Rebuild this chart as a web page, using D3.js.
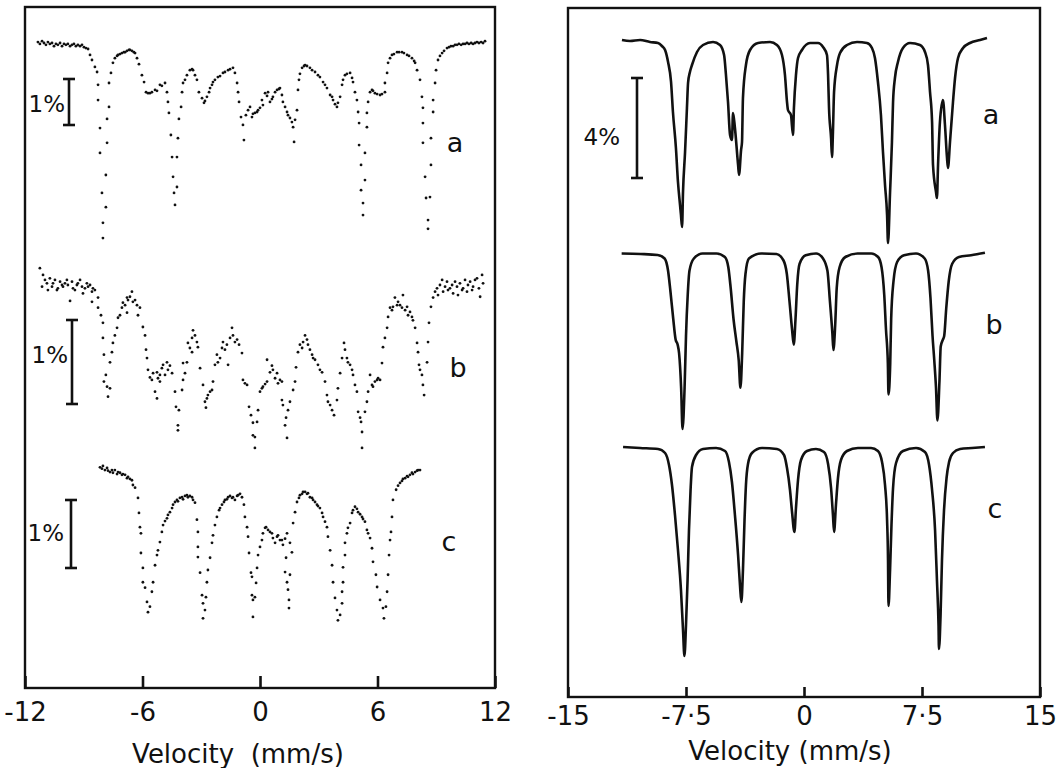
<!DOCTYPE html>
<html>
<head>
<meta charset="utf-8">
<script src="https://cdn.jsdelivr.net/npm/d3@7"></script>
<style>
  body { margin: 0; background: #fff; }
  text { font-family: "DejaVu Sans", sans-serif; fill: #111; }
</style>
</head>
<body>
<svg id="chart" width="1060" height="768"></svg>
<script>
// velocity axes (mm/s)
const leftTicks = [-12, -6, 0, 6, 12]
const leftTickLabels = ["-12", "-6", "0", "6", "12"]
const rightTicks = [-15, -7.5, 0, 7.5, 15]
const rightTickLabels = ["-15", "-7·5", "0", "7·5", "15"]
const spectrumNames = ["a", "b", "c"]
const leftBarPercent = 1
const rightBarPercent = 4

// left figure, measured points: [velocity mm/s, absorption % below baseline]
const leftA = [[-11.34,-0.02],[-11.24,0.02],[-11.13,-0.04],[-11.03,0],[-10.93,0.04],[-10.83,-0.02],[-10.73,0.02],[-10.62,0],[-10.52,0.07],[-10.42,0.02],[-10.32,0.04],[-10.21,0],[-10.11,0.07],[-10.01,0.02],[-9.91,0.04],[-9.81,0.02],[-9.70,0.07],[-9.60,0.04],[-9.50,0.02],[-9.40,0.07],[-9.30,0.04],[-9.19,0.07],[-9.09,0.04],[-8.99,0.09],[-8.89,0.11],[-8.78,0.13],
  [-8.68,0.26],[-8.58,0.37],[-8.43,0.52],[-8.32,0.63],[-8.27,0.91],[-8.27,1.24],[-8.17,1.85],[-8.17,2.39],[-8.07,3.26],[-8.02,3.91],[-8.02,4.24],[-7.87,3.57],[-7.87,2.87],[-7.81,2.17],[-7.81,1.65],[-7.71,1.39],[-7.71,0.87],[-7.61,0.65],[-7.51,0.43],[-7.41,0.33],[-7.30,0.28],[-7.25,0.26],[-7.15,0.24],[-7.05,0.22],[-6.95,0.20],[-6.89,0.20],[-6.79,0.17],[-6.69,0.15],[-6.64,0.15],[-6.54,0.17],[-6.44,0.20],[-6.38,0.22],[-6.28,0.33],[-6.18,0.46],[-6.03,0.70],[-5.92,0.85],[-5.82,1.07],[-5.72,1.09],[-5.62,1.09],[-5.52,1.07],[-5.36,1.02],[-5.26,1.04],[-5.11,0.91],[-5.01,0.93],[-4.85,0.87],[-4.75,1.07],[-4.70,1.28],[-4.65,1.52],[-4.55,2.00],[-4.49,2.48],[-4.44,2.91],[-4.39,3.26],[-4.34,3.52],
  [-4.24,3.13],[-4.24,2.48],[-4.19,2.07],[-4.14,1.65],[-4.03,1.39],[-3.98,1.07],[-3.93,0.87],[-3.83,0.80],[-3.73,0.70],[-3.58,0.59],[-3.47,0.57],[-3.42,0.59],[-3.32,0.70],[-3.22,0.80],[-3.12,1.07],[-2.96,1.20],[-2.86,1.30],[-2.81,1.26],[-2.71,1.17],[-2.60,1.07],[-2.55,0.98],[-2.45,0.91],[-2.40,0.85],[-2.30,0.80],[-2.15,0.74],[-2.04,0.72],[-1.89,0.65],[-1.79,0.63],[-1.63,0.59],[-1.53,0.57],[-1.38,0.54],[-1.28,0.65],[-1.17,0.87],[-1.12,1.07],[-1.07,1.28],[-0.97,1.61],[-0.87,1.78],[-0.82,2.11],[-0.72,1.57],[-0.61,1.46],[-0.51,1.39],[-0.41,1.61],[-0.36,1.54],[-0.26,1.52],[-0.15,1.50],[-0.10,1.46],[0,1.41],[0.10,1.24],[0.15,1.35],[0.26,1.09],[0.36,1.15],[0.41,1.07],[0.51,1.28],[0.61,1.22],[0.66,1.17],[0.77,1.07],[0.87,1.02],[0.97,1.00],[1.02,0.98],[1.12,1.13],[1.17,1.28],[1.28,1.39],[1.38,1.50],[1.43,1.57],[1.53,1.63],[1.63,1.72],[1.69,1.83],[1.74,2.15],[1.79,1.67],[1.89,1.46],[1.94,1.02],[1.99,0.80],[2.04,0.67],[2.15,0.54],[2.25,0.50],[2.30,0.48],[2.40,0.50],[2.55,0.54],[2.66,0.59],[2.81,0.63],[2.96,0.70],[3.06,0.74],[3.22,0.85],[3.32,0.91],[3.42,0.98],[3.58,1.13],[3.68,1.17],[3.73,1.24],[3.83,1.33],[3.93,1.39],[3.98,1.30],[4.09,1.17],[4.19,0.91],[4.24,0.80],[4.34,0.70],[4.44,0.67],[4.60,0.65],[4.70,0.76],[4.75,0.85],[4.85,1.07],[4.95,1.24],[5.01,1.50],[5.06,1.74],[5.06,2.22],[5.16,2.65],[5.16,3.20],[5.26,3.48],[5.26,3.74],
  [5.36,2.98],[5.36,2.39],[5.46,1.83],[5.46,1.52],[5.52,1.28],[5.62,1.07],[5.72,1.02],[5.77,1.04],[5.87,1.09],[5.98,1.11],[6.13,1.13],[6.23,1.11],[6.38,1.07],[6.38,0.87],[6.49,0.65],[6.54,0.43],[6.64,0.33],[6.74,0.26],[6.84,0.24],[7.00,0.20],[7.10,0.20],[7.25,0.20],[7.35,0.22],[7.51,0.26],[7.61,0.28],[7.76,0.33],[7.87,0.39],[7.92,0.43],[8.02,0.59],[8.17,0.80],[8.27,1.17],[8.32,1.41],[8.32,1.74],[8.32,2.17],[8.43,2.91],[8.48,3.37],[8.58,3.85],[8.58,4.04],
  [8.68,3.35],[8.73,2.65],[8.73,2.07],[8.84,1.50],[8.84,1.24],[8.94,0.87],[8.99,0.59],[9.09,0.37],[9.19,0.28],[9.30,0.22],[9.40,0.17],[9.55,0.11],[9.65,0.09],[9.75,0.07],[9.86,0.07],[9.96,0.04],[10.06,0.04],[10.16,0.02],[10.27,0.04],[10.37,0.02],[10.47,0.02],[10.57,0],[10.67,0.02],[10.78,0],[10.88,0.02],[10.98,0],[11.08,-0.02],[11.18,0],[11.29,-0.02],[11.39,0],[11.49,-0.04]]

const leftB = [[-11.24,-0.20],[-11.13,0.02],[-11.08,-0.12],[-10.98,-0.06],[-10.88,-0.02],[-10.83,0.06],[-10.73,-0.08],[-10.62,0.02],[-10.57,-0.02],[-10.47,-0.06],[-10.37,0.06],[-10.32,0.04],[-10.21,-0.04],[-10.11,0],[-10.06,0.02],[-9.96,-0.02],[-9.86,-0.06],[-9.81,0],[-9.70,0.19],[-9.60,-0.04],[-9.55,0.04],[-9.45,0.06],[-9.35,0],[-9.30,-0.02],[-9.19,-0.06],[-9.09,0.02],[-9.04,0.10],[-8.94,0.04],[-8.84,-0.02],[-8.78,0.02],[-8.68,0],[-8.58,0.08],[-8.58,0.20],[-8.53,0.04],[-8.43,0.06],
  [-8.27,0.15],[-8.27,0.27],[-8.12,0.36],[-8.02,0.45],[-8.02,0.63],[-7.97,0.83],[-7.87,1.07],[-7.97,1.15],[-7.81,1.21],[-7.76,1.33],[-7.66,1.23],[-7.66,0.92],[-7.56,0.80],[-7.51,0.69],[-7.41,0.60],[-7.30,0.51],[-7.25,0.39],[-7.15,0.36],[-7.05,0.27],[-7.00,0.21],[-6.89,0.24],[-6.79,0.15],[-6.79,0.33],[-6.74,0.18],[-6.64,0.14],[-6.54,0.08],[-6.49,0.20],[-6.38,0.18],[-6.28,0.24],[-6.23,0.36],[-6.13,0.27],[-5.98,0.50],[-5.87,0.60],[-5.82,0.77],[-5.77,0.87],[-5.72,1.01],[-5.62,1.10],[-5.52,1.13],[-5.46,1.05],[-5.36,1.27],[-5.26,1.04],[-5.26,1.35],[-5.21,1.11],[-5.11,1.07],[-5.11,1.15],[-5.01,0.99],[-4.95,0.95],[-4.85,1.07],[-4.75,0.92],[-4.70,1.01],[-4.60,0.96],[-4.49,1.05],[-4.34,1.27],[-4.29,1.45],[-4.19,1.67],[-4.19,1.73],[-4.14,1.49],[-3.98,1.25],[-3.93,1.13],[-3.93,0.93],[-3.83,1.05],[-3.73,0.92],[-3.68,0.69],[-3.58,0.75],[-3.47,0.63],[-3.47,0.80],[-3.42,0.54],[-3.32,0.60],[-3.22,0.68],[-3.17,0.74],[-3.06,0.99],[-2.91,1.19],[-2.81,1.39],[-2.76,1.46],[-2.71,1.35],[-2.66,1.31],[-2.55,1.27],[-2.45,1.25],[-2.40,1.15],[-2.30,0.95],[-2.20,0.83],[-2.15,0.92],[-2.04,0.87],[-1.94,0.75],[-1.89,0.68],[-1.79,0.77],[-1.69,0.71],[-1.63,0.95],[-1.53,0.63],[-1.43,0.51],[-1.38,0.60],[-1.28,0.68],[-1.17,0.65],[-1.07,0.71],[-0.92,0.81],[-0.87,1.13],[-0.77,1.17],[-0.66,1.19],[-0.56,1.45],[-0.46,1.55],[-0.36,1.64],[-0.36,1.79],[-0.26,1.94],[-0.26,1.81],[-0.15,1.63],[-0.10,1.49],
  [0,1.27],[0.10,1.23],[0.15,1.21],[0.26,1.18],[0.36,1.15],[0.36,0.89],[0.51,1.04],[0.61,0.96],[0.66,1.01],[0.77,1.11],[0.87,1.05],[0.92,1.17],[1.02,1.13],[1.12,1.15],[1.12,1.37],[1.17,1.43],[1.28,1.67],[1.33,1.58],[1.38,1.82],[1.43,1.49],[1.53,1.39],[1.69,1.25],[1.79,1.15],[1.84,0.98],[1.94,0.80],[2.04,0.71],[2.15,0.75],[2.20,0.68],[2.30,0.60],[2.40,0.65],[2.45,0.71],[2.55,0.77],[2.66,0.83],[2.71,0.87],[2.81,0.89],[2.96,0.95],[3.06,1.01],[3.17,1.04],[3.32,1.15],[3.42,1.31],[3.47,1.39],[3.58,1.43],[3.68,1.49],[3.78,1.55],[3.93,1.37],[3.98,1.23],[4.09,1.05],[4.19,0.87],[4.29,0.69],[4.34,0.77],[4.44,0.87],[4.49,0.92],[4.60,0.95],[4.70,1.01],[4.75,1.07],[4.85,1.19],[4.95,1.27],[5.01,1.51],[5.11,1.58],[5.16,1.63],[5.21,1.75],[5.21,1.94],[5.36,1.51],[5.46,1.39],[5.52,1.27],[5.62,1.07],[5.72,1.19],[5.77,1.21],[5.87,1.15],[5.98,1.13],[6.03,1.11],[6.13,1.13],[6.23,0.93],[6.28,0.74],[6.38,0.63],[6.49,0.51],[6.54,0.38],[6.64,0.27],[6.74,0.30],[6.79,0.26],[6.89,0.15],[7.00,0.24],[7.05,0.20],[7.15,0.24],[7.25,0.27],[7.30,0.12],[7.41,0.30],[7.51,0.26],[7.56,0.36],[7.66,0.32],[7.76,0.38],[7.81,0.42],[7.92,0.51],[8.02,0.69],[8.07,0.80],[8.12,0.95],[8.17,1.01],[8.27,1.07],[8.32,1.19],[8.38,1.31],
  [8.53,0.92],[8.58,0.68],[8.63,0.45],[8.73,0.26],[8.84,0.15],[8.94,0.08],[9.04,0.04],[9.09,0.12],[9.19,0],[9.30,-0.06],[9.35,0.08],[9.45,0.02],[9.55,-0.04],[9.60,0.06],[9.70,0.04],[9.81,0],[9.86,0.10],[9.96,-0.04],[10.06,0.02],[10.11,0.12],[10.21,-0.02],[10.32,0.06],[10.37,0.04],[10.47,-0.06],[10.57,0.08],[10.62,0],[10.73,-0.04],[10.83,0.06],[10.88,0.02],[10.98,-0.06],[11.08,-0.08],[11.18,0.04],[11.24,0.14],[11.34,-0.12],[11.39,-0.02]]

const leftC = [[-8.17,-0.01],[-8.07,0.01],[-8.02,-0.03],[-7.92,0.03],[-7.81,0],[-7.76,0.04],[-7.66,0.06],[-7.56,0.03],[-7.51,0.07],[-7.41,0.03],[-7.30,0.09],[-7.25,0.06],[-7.15,0.07],[-7.05,0.10],[-7.00,0.09],[-6.89,0.10],[-6.79,0.15],[-6.74,0.13],[-6.64,0.16],[-6.54,0.18],[-6.49,0.25],[-6.38,0.29],[-6.23,0.44],[-6.18,0.66],[-6.13,0.87],[-6.08,0.96],[-6.08,1.25],[-5.98,1.47],[-5.98,1.68],[-5.87,1.76],[-5.77,1.97],[-5.72,2.12],[-5.62,2.04],[-5.52,1.82],[-5.46,1.68],[-5.36,1.43],[-5.26,1.28],[-5.21,1.21],[-5.11,1.09],[-5.01,0.94],[-4.95,0.84],[-4.85,0.78],[-4.75,0.74],[-4.70,0.69],[-4.60,0.65],[-4.49,0.59],[-4.44,0.54],[-4.34,0.50],[-4.24,0.47],[-4.19,0.49],[-4.09,0.44],[-3.98,0.43],[-3.93,0.46],[-3.83,0.41],[-3.73,0.40],[-3.68,0.43],[-3.58,0.41],[-3.47,0.43],[-3.42,0.47],[-3.32,0.51],[-3.22,0.76],[-3.17,0.94],[-3.17,1.16],[-3.17,1.31],[-3.06,1.54],[-2.96,1.87],[-2.91,1.99],[-2.91,2.21],[-2.81,2.09],[-2.76,1.90],[-2.71,1.68],[-2.66,1.50],[-2.55,1.32],[-2.45,1.10],[-2.40,0.99],[-2.30,0.84],[-2.20,0.72],[-2.09,0.62],[-2.04,0.59],[-1.94,0.54],[-1.84,0.50],[-1.79,0.47],[-1.69,0.46],[-1.63,0.43],[-1.53,0.41],[-1.43,0.44],[-1.38,0.43],[-1.28,0.47],[-1.17,0.41],[-1.12,0.40],[-1.02,0.38],[-0.92,0.43],[-0.82,0.54],[-0.77,0.72],[-0.66,0.87],[-0.61,1.01],[-0.56,1.25],[-0.46,1.54],[-0.41,1.60],[-0.41,1.87],[-0.36,1.94],[-0.36,2.19],[-0.26,1.90],[-0.20,1.69],[-0.15,1.47],[-0.10,1.28],
  [0,1.16],[0.10,1.06],[0.15,0.96],[0.26,0.88],[0.31,0.87],[0.41,0.91],[0.51,0.94],[0.61,0.96],[0.66,1.03],[0.77,1.10],[0.87,1.01],[0.92,0.99],[1.02,1.06],[1.12,1.06],[1.17,1.13],[1.28,1.04],[1.38,0.96],[1.53,1.10],[1.33,1.32],[1.28,1.53],[1.38,1.68],[1.43,1.79],[1.48,1.94],[1.48,2.06],[1.53,1.57],[1.63,1.24],[1.69,0.81],[1.79,0.65],[1.89,0.50],[1.99,0.44],[2.04,0.40],[2.15,0.38],[2.20,0.35],[2.30,0.35],[2.40,0.38],[2.45,0.37],[2.55,0.43],[2.66,0.44],[2.71,0.47],[2.81,0.50],[2.91,0.54],[2.96,0.56],[3.06,0.59],[3.17,0.66],[3.22,0.72],[3.32,0.79],[3.42,0.87],[3.47,1.01],[3.58,1.21],[3.68,1.43],[3.73,1.68],[3.83,1.91],[3.93,2.09],[3.98,2.24],[4.09,2.16],[4.19,1.99],[4.19,1.82],[4.24,1.68],[4.24,1.46],[4.34,1.28],[4.34,1.10],[4.44,0.96],[4.49,0.88],[4.60,0.81],[4.70,0.66],[4.75,0.62],[4.85,0.57],[4.95,0.60],[5.01,0.65],[5.11,0.68],[5.21,0.72],[5.26,0.75],[5.36,0.79],[5.46,0.91],[5.52,0.96],[5.62,1.03],[5.72,1.18],[5.77,1.38],[5.92,1.57],[5.98,1.75],[6.13,1.94],[6.28,2.06],[6.33,2.21],[6.43,2.04],[6.49,1.82],[6.54,1.57],[6.59,1.28],[6.64,1.06],[6.69,0.94],[6.74,0.72],[6.79,0.47],[6.95,0.32],[7.05,0.26],[7.15,0.22],[7.25,0.19],[7.30,0.16],[7.41,0.15],[7.51,0.12],[7.56,0.13],[7.66,0.10],[7.76,0.07],[7.81,0.09],[7.92,0.06],[8.02,0.04],[8.07,0.03],[8.17,0.03]]

// right figure, traced curves: [velocity mm/s, absorption %]
const rightA = [[-11.57,0],[-11.06,0.04],[-10.42,0],[-9.79,0.08],[-9.28,0.12],[-9.03,0.24],[-8.83,0.40],[-8.64,0.88],[-8.45,1.68],[-8.33,2.88],[-8.14,4.32],[-8.01,5.68],[-7.88,6.60],[-7.82,7.00],[-7.75,7.48],[-7.69,6.08],[-7.56,4.48],[-7.44,2.72],[-7.37,1.72],[-7.25,1.28],[-7.12,1.00],[-6.80,0.48],[-6.42,0.20],[-5.78,0.08],[-5.34,0.20],[-5.08,0.60],[-4.96,1.40],[-4.83,2.48],[-4.70,3.80],[-4.58,4.00],[-4.51,2.92],[-4.39,3.52],[-4.19,5.00],[-4.13,5.40],[-4.00,4.40],[-3.94,4.08],[-3.88,2.32],[-3.69,1.00],[-3.43,0.40],[-2.92,0.12],[-2.16,0.08],[-1.72,0.20],[-1.40,0.60],[-1.21,1.40],[-1.08,2.48],[-1.02,2.80],[-0.83,3.00],[-0.70,3.80],[-0.64,2.72],[-0.51,1.40],[-0.38,0.72],[-0.13,0.40],[0.38,0.12],[0.89,0.12],[1.21,0.28],[1.46,0.60],[1.53,1.40],[1.59,2.72],[1.72,3.92],[1.78,4.68],[1.84,3.68],[1.91,2.08],[2.10,1.00],[2.29,0.52],[2.73,0.20],[3.37,0.08],[4.00,0.12],[4.32,0.32],[4.51,0.72],[4.70,1.68],[4.89,3.00],[5.02,4.48],[5.15,5.80],[5.28,7.00],[5.34,8.12],[5.47,6.08],[5.59,4.08],[5.66,2.48],[5.78,1.52],[5.97,0.88],[6.29,0.32],[6.74,0.12],[7.37,0.20],[7.69,0.48],[7.88,1.00],[8.01,2.08],[8.14,3.28],[8.20,5.00],[8.39,6.08],[8.45,6.32],[8.52,5.00],[8.64,3.28],[8.83,2.40],[8.96,3.40],[9.09,4.72],[9.15,5.12],[9.28,4.08],[9.47,2.48],[9.60,1.52],[9.79,0.72],[10.11,0.32],[10.55,0.12],[11.19,0],[11.63,-0.08]]

const rightB = [[-11.59,0.02],[-10.39,0.04],[-9.30,0.08],[-8.86,0.22],[-8.64,0.71],[-8.49,1.53],[-8.31,2.64],[-8.16,3.46],[-8.03,3.67],[-7.94,4.01],[-7.81,5.39],[-7.72,7.04],[-7.59,5.39],[-7.50,3.32],[-7.39,1.67],[-7.28,0.71],[-7.00,0.22],[-6.45,0.02],[-5.57,0.02],[-5.03,0.16],[-4.81,0.57],[-4.66,1.40],[-4.48,2.64],[-4.30,3.53],[-4.15,4.29],[-4.04,5.39],[-3.93,4.01],[-3.83,1.95],[-3.72,0.84],[-3.50,0.22],[-2.73,0.02],[-1.75,0.04],[-1.31,0.29],[-1.09,0.84],[-0.92,1.95],[-0.76,3.05],[-0.65,3.67],[-0.54,2.64],[-0.43,1.26],[-0.28,0.43],[0.11,0.09],[0.77,0.02],[1.21,0.22],[1.49,0.71],[1.65,1.95],[1.80,3.18],[1.87,3.88],[1.98,2.91],[2.08,1.40],[2.26,0.57],[2.63,0.16],[3.40,0.02],[4.27,0.02],[4.71,0.16],[4.93,0.57],[5.10,1.67],[5.21,3.05],[5.33,4.42],[5.37,5.66],[5.48,4.42],[5.54,2.64],[5.69,1.12],[5.92,0.36],[6.36,0.09],[7.12,0.02],[7.67,0.22],[7.89,0.71],[8.04,1.81],[8.17,3.32],[8.28,4.29],[8.39,5.39],[8.48,6.70],[8.61,5.12],[8.69,3.74],[8.83,3.46],[8.91,3.32],[9.04,2.22],[9.20,1.12],[9.42,0.43],[9.85,0.16],[10.62,0.09],[11.50,-0.01]]

const rightC = [[-11.50,-0.04],[-10.42,0],[-9.28,0.04],[-8.83,0.20],[-8.58,0.68],[-8.39,1.48],[-8.20,2.68],[-8.01,4.08],[-7.82,5.68],[-7.69,7.28],[-7.60,8.32],[-7.50,7.08],[-7.40,5.28],[-7.31,3.28],[-7.21,1.68],[-7.12,0.76],[-6.86,0.28],[-6.42,0.04],[-5.59,0],[-5.02,0.12],[-4.77,0.56],[-4.58,1.36],[-4.39,2.68],[-4.19,4.28],[-4.07,5.48],[-3.98,6.16],[-3.88,4.88],[-3.78,2.88],[-3.69,1.48],[-3.56,0.64],[-3.31,0.20],[-2.67,0],[-1.72,0.04],[-1.27,0.28],[-1.08,0.80],[-0.89,1.68],[-0.76,2.56],[-0.61,3.36],[-0.51,2.40],[-0.38,1.28],[-0.19,0.48],[0.19,0.12],[0.76,0.04],[1.27,0.16],[1.53,0.64],[1.72,1.60],[1.84,2.68],[1.91,3.36],[2.03,2.28],[2.16,1.20],[2.35,0.48],[2.73,0.12],[3.43,0],[4.26,0],[4.70,0.12],[4.96,0.56],[5.15,1.48],[5.28,2.88],[5.34,4.48],[5.37,6.32],[5.47,4.88],[5.56,3.08],[5.66,1.60],[5.85,0.60],[6.29,0.12],[7.12,0],[7.69,0.16],[7.95,0.68],[8.14,1.68],[8.33,3.28],[8.45,5.28],[8.55,7.08],[8.58,8.04],[8.68,6.68],[8.77,4.48],[8.90,2.48],[9.06,1.20],[9.22,0.56],[9.47,0.20],[9.92,0.04],[10.68,0],[11.50,-0.04]]

const ink = '#111'
const svg = d3.select('#chart')

let xl = d3.scaleLinear([-12, 12], [25, 495])
let xr = d3.scaleLinear([-15, 15], [568, 1040])

// one vertical scale per spectrum: absorption % -> px
let leftRows = [
  {data: leftA, y: d3.scaleLinear([0, 1], [43, 89]), label: [455, 152], bar: [69, 79], pct: [65, 112]},
  {data: leftB, y: d3.scaleLinear([0, 1], [285, 369]), label: [458, 377], bar: [72, 320], pct: [68, 363]},
  {data: leftC, y: d3.scaleLinear([0, 1], [468, 536]), label: [449, 551], bar: [71, 500], pct: [64, 541]}
]
let rightRows = [
  {data: rightA, y: d3.scaleLinear([0, 1], [40, 65]), label: [991, 124]},
  {data: rightB, y: d3.scaleLinear([0, 1], [253, 278]), label: [994, 334]},
  {data: rightC, y: d3.scaleLinear([0, 1], [448, 473]), label: [995, 518]}
]

function drawBar(x, top, len, pct, text) {
  let g = svg.append('g').attr('stroke', ink).attr('stroke-width', 2.6)
  g.append('line').attr('x1', x).attr('x2', x).attr('y1', top).attr('y2', top + len)
  g.append('line').attr('x1', x - 6).attr('x2', x + 6).attr('y1', top).attr('y2', top)
  g.append('line').attr('x1', x - 6).attr('x2', x + 6).attr('y1', top + len).attr('y2', top + len)
  svg.append('text')
    .attr('x', pct[0]).attr('y', pct[1])
    .attr('text-anchor', 'end')
    .attr('font-size', 23)
    .text(text)
}

// left frame + axis
svg.append('rect').attr('x', 25).attr('y', 7).attr('width', 470).attr('height', 681)
  .attr('fill', 'none').attr('stroke', ink).attr('stroke-width', 2.4)

let axl = svg.append('g')
  .attr('transform', 'translate(0,688)')
  .call(d3.axisBottom(xl).tickValues(leftTicks)
    .tickFormat((d, i) => leftTickLabels[i]).tickSize(-12).tickPadding(15))
axl.select('.domain').remove()
axl.selectAll('line').attr('stroke', ink).attr('stroke-width', 2.6)
axl.selectAll('text').attr('font-size', 26).attr('fill', ink)
  .attr('font-family', '"DejaVu Sans", sans-serif')

svg.append('text')
  .attr('x', 238).attr('y', 763)
  .attr('text-anchor', 'middle')
  .attr('font-size', 26)
  .style('white-space', 'pre')
  .text('Velocity  (mm/s)')

leftRows.forEach((row, i) => {
  svg.append('g').selectAll('circle')
    .data(row.data)
    .enter().append('circle')
    .attr('cx', d => xl(d[0]))
    .attr('cy', d => row.y(d[1]))
    .attr('r', 1.4)
    .attr('fill', ink)

  svg.append('text')
    .attr('x', row.label[0]).attr('y', row.label[1])
    .attr('text-anchor', 'middle')
    .attr('font-size', 27)
    .text(spectrumNames[i])

  let len = row.y(leftBarPercent) - row.y(0)
  drawBar(row.bar[0], row.bar[1], len, row.pct, leftBarPercent + '%')
})

// right frame + axis
svg.append('rect').attr('x', 568).attr('y', 8).attr('width', 472).attr('height', 689)
  .attr('fill', 'none').attr('stroke', ink).attr('stroke-width', 2.4)

let axr = svg.append('g')
  .attr('transform', 'translate(0,697)')
  .call(d3.axisBottom(xr).tickValues(rightTicks)
    .tickFormat((d, i) => rightTickLabels[i]).tickSize(-10).tickPadding(10))
axr.select('.domain').remove()
axr.selectAll('line').attr('stroke', ink).attr('stroke-width', 2.6)
axr.selectAll('text').attr('font-size', 26).attr('fill', ink)
  .attr('font-family', '"DejaVu Sans", sans-serif')

svg.append('text')
  .attr('x', 790).attr('y', 760)
  .attr('text-anchor', 'middle')
  .attr('font-size', 26)
  .text('Velocity (mm/s)')

// smooth trace through the read-off points (x strictly increasing)
let line = d3.line().curve(d3.curveMonotoneX)
rightRows.forEach((row, i) => {
  svg.append('path')
    .datum(row.data)
    .attr('fill', 'none')
    .attr('stroke', ink)
    .attr('stroke-width', 2.6)
    .attr('stroke-linejoin', 'round')
    .attr('d', line.x(d => xr(d[0])).y(d => row.y(d[1])))

  svg.append('text')
    .attr('x', row.label[0]).attr('y', row.label[1])
    .attr('text-anchor', 'middle')
    .attr('font-size', 27)
    .text(spectrumNames[i])
})

drawBar(637, 78, rightRows[0].y(rightBarPercent) - rightRows[0].y(0), [620, 145], rightBarPercent + '%')
</script>
</body>
</html>
